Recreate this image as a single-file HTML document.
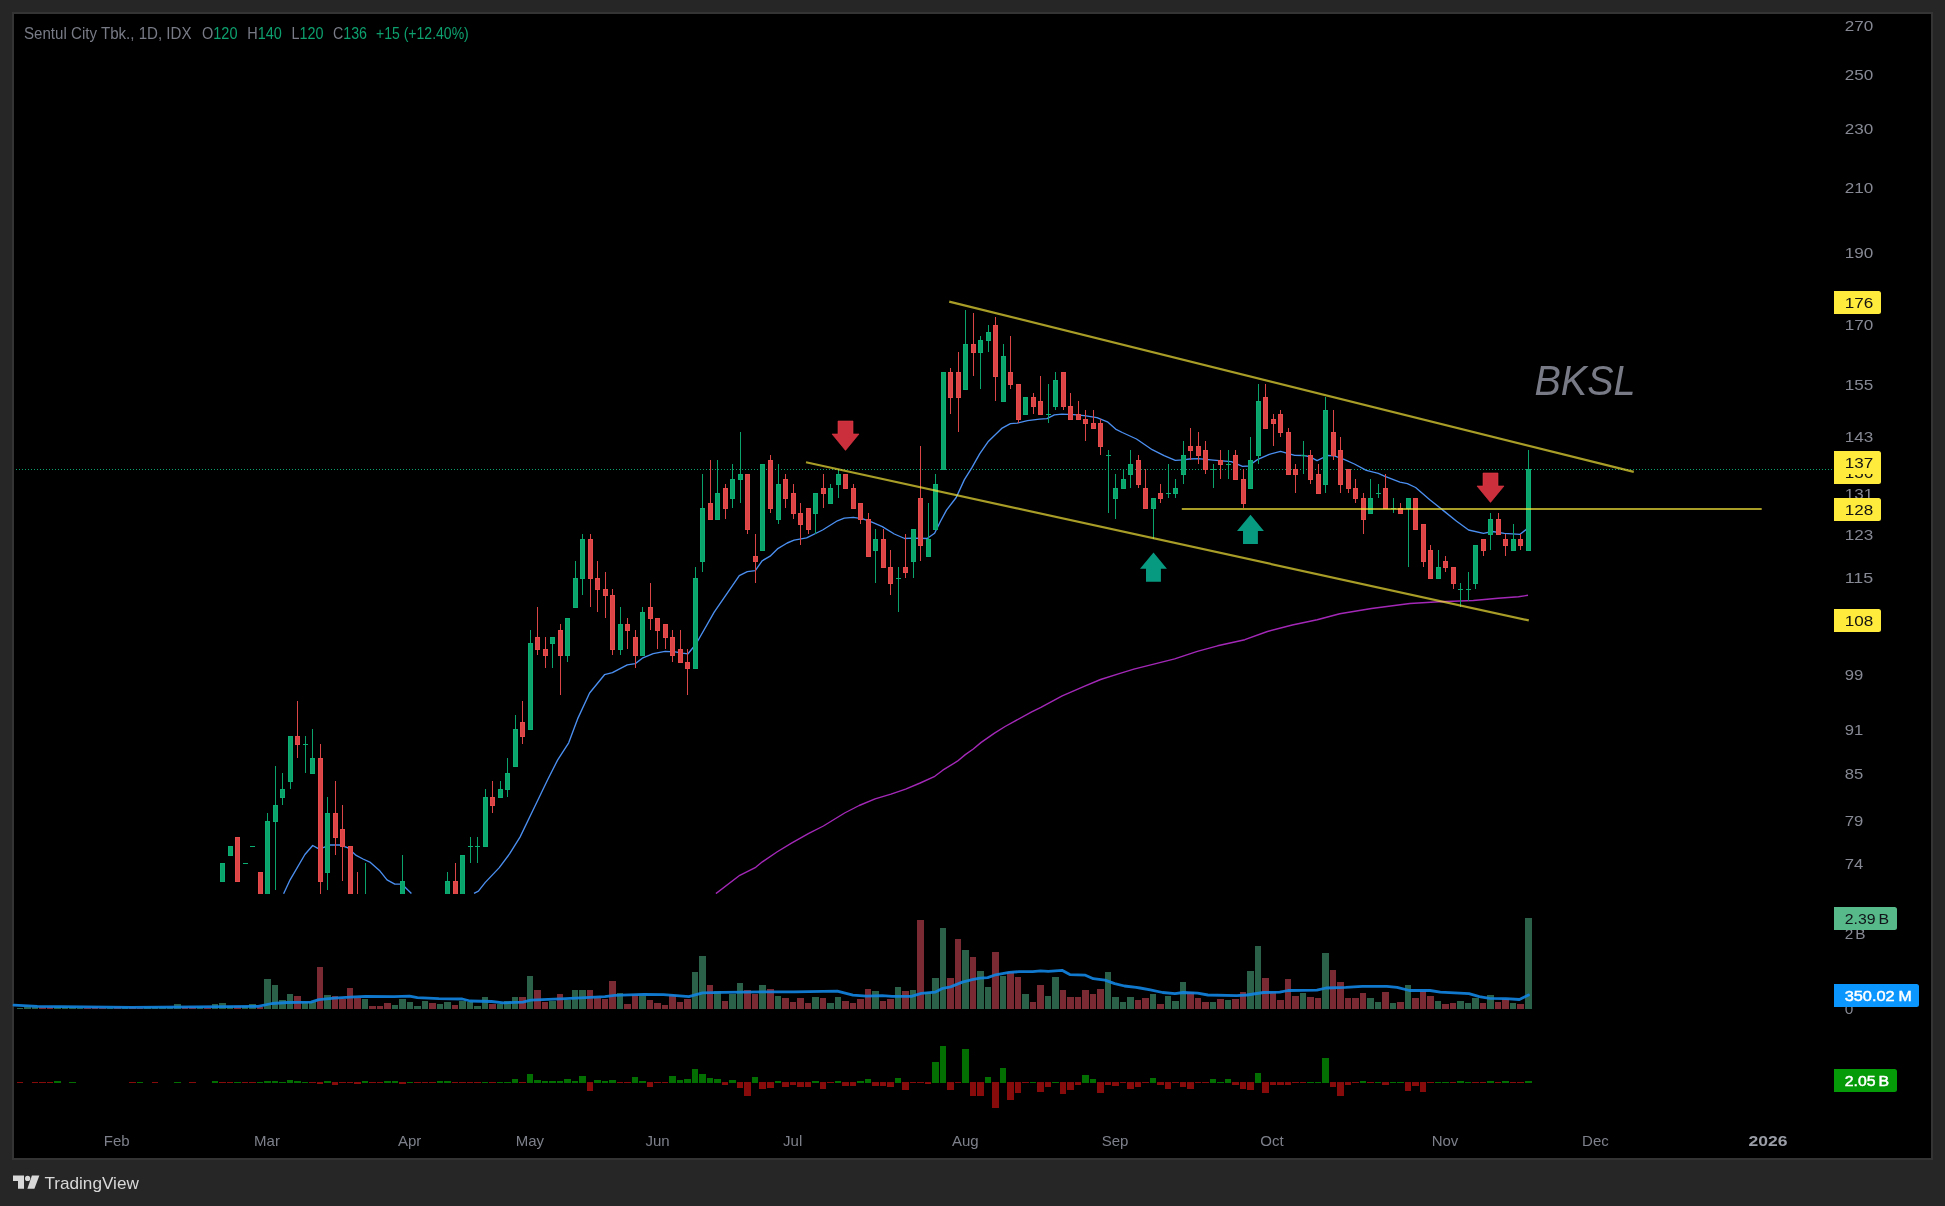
<!DOCTYPE html><html><head><meta charset="utf-8"><title>BKSL chart</title>
<style>html,body{margin:0;padding:0;background:#262626;}body{width:1945px;height:1206px;overflow:hidden;position:relative;font-family:"Liberation Sans",sans-serif;}svg{position:absolute;left:0;top:0;display:block}text{font-family:"Liberation Sans",sans-serif;}svg{will-change:transform;}</style></head><body>
<svg width="1945" height="1206" viewBox="0 0 1945 1206">
<rect x="0" y="0" width="1945" height="1206" fill="#262626"/>
<rect x="12" y="12" width="1921" height="1148" fill="#343434"/>
<rect x="14" y="14" width="1917" height="1144" fill="#000"/>
<defs><clipPath id="main"><rect x="14" y="14" width="1820" height="880"/></clipPath></defs>
<g clip-path="url(#main)">
<line x1="13" y1="469.5" x2="1834" y2="469.5" stroke="#0c9f70" stroke-width="1" stroke-dasharray="1 2" shape-rendering="crispEdges"/>
<path d="M715.9 893.6 L739.8 875.3 L755.7 867.3 L762.4 861.8 L776.9 852.0 L791.5 843.2 L808.8 833.4 L823.4 826.0 L844.6 813.0 L859.2 805.5 L875.1 798.9 L891.0 794.1 L905.6 789.1 L920.2 783.0 L934.8 776.3 L942.8 770.2 L957.4 761.2 L965.3 754.6 L973.3 749.0 L981.2 742.4 L994.5 733.1 L1005.1 726.5 L1031.7 711.9 L1040.9 707.4 L1062.2 695.9 L1084.7 686.1 L1100.6 679.5 L1120.0 673.4 L1133.9 669.1 L1174.7 658.9 L1197.3 651.4 L1217.6 645.8 L1244.8 639.7 L1267.4 631.5 L1292.3 625.0 L1317.2 619.8 L1339.8 613.7 L1371.5 608.5 L1409.9 603.5 L1439.3 601.7 L1473.3 600.5 L1498.1 598.3 L1518.5 596.7 L1528.0 595.3" fill="none" stroke="#a428b8" stroke-width="1.4" stroke-linejoin="round"/>
<path d="M283.6 893.7 L290.1 879.8 L304.9 854.5 L312.7 845.5 L317.9 848.4 L323.2 847.6 L330.1 845.0 L339.7 845.0 L347.5 847.6 L356.2 855.4 L363.0 859.0 L370.4 862.4 L380.0 871.1 L387.0 879.8 L394.8 884.1 L401.8 884.1 L411.4 893.4 M474.0 893.4 L478.4 891.1 L485.3 882.4 L499.3 867.6 L509.7 853.7 L520.0 837.1 L535.0 806.0 L548.0 779.0 L557.7 759.9 L568.7 742.8 L577.6 718.9 L589.6 693.0 L604.5 674.7 L612.4 672.7 L627.3 664.8 L635.3 663.6 L642.3 658.2 L653.2 653.7 L665.1 651.3 L675.1 651.9 L682.3 653.2 L688.0 653.8 L696.0 644.0 L714.2 612.1 L739.3 575.6 L747.3 571.7 L755.3 570.6 L762.1 560.8 L770.1 556.2 L777.4 548.9 L787.2 543.0 L794.1 540.2 L806.6 537.9 L822.6 530.0 L837.4 520.8 L844.3 518.1 L853.4 517.4 L862.9 518.8 L871.9 522.1 L882.3 526.6 L894.3 534.0 L904.7 538.5 L912.2 538.1 L927.1 538.5 L934.6 533.3 L940.5 521.3 L946.5 510.1 L956.2 497.5 L964.4 479.6 L971.9 467.6 L979.8 453.7 L988.0 441.8 L1002.2 428.1 L1010.4 423.6 L1017.1 423.1 L1027.5 420.6 L1039.5 419.1 L1046.9 418.7 L1054.4 414.9 L1061.9 414.2 L1073.8 414.6 L1084.3 415.7 L1096.9 417.6 L1107.4 421.8 L1115.6 429.1 L1122.3 432.5 L1136.5 439.0 L1152.2 449.7 L1164.1 455.7 L1175.3 460.4 L1183.5 459.9 L1189.5 459.0 L1198.4 458.7 L1213.4 460.1 L1231.3 461.6 L1242.5 466.3 L1248.4 466.0 L1257.4 459.6 L1269.3 454.3 L1280.5 451.3 L1294.7 455.4 L1303.7 455.5 L1309.6 456.6 L1317.1 460.6 L1327.5 455.5 L1334.3 455.8 L1344.0 459.3 L1354.4 464.0 L1366.3 470.3 L1378.3 473.3 L1385.0 476.3 L1399.9 482.1 L1407.4 483.6 L1415.6 487.5 L1429.8 499.7 L1444.7 511.6 L1456.6 521.3 L1468.6 530.0 L1483.5 533.3 L1492.5 531.5 L1504.4 533.3 L1520.1 534.3 L1526.0 529.6 L1528.5 527.5" fill="none" stroke="#4b8ff0" stroke-width="1.35" stroke-linejoin="round"/>
<g shape-rendering="crispEdges">
<rect x="222" y="863" width="1" height="18" fill="#0aa36b"/>
<rect x="220" y="863" width="5" height="19" fill="#0cae73"/>
<rect x="221" y="864" width="3" height="17" fill="#0aa36b"/>
<rect x="230" y="846" width="1" height="9" fill="#0aa36b"/>
<rect x="228" y="846" width="5" height="10" fill="#0cae73"/>
<rect x="229" y="847" width="3" height="8" fill="#0aa36b"/>
<rect x="237" y="837" width="1" height="44" fill="#db4545"/>
<rect x="235" y="837" width="5" height="45" fill="#e84b4b"/>
<rect x="236" y="838" width="3" height="43" fill="#db4545"/>
<rect x="245" y="863" width="1" height="1" fill="#0aa36b"/>
<rect x="243" y="863" width="5" height="1" fill="#0cae73"/>
<rect x="252" y="846" width="1" height="1" fill="#0aa36b"/>
<rect x="250" y="846" width="5" height="1" fill="#0cae73"/>
<rect x="260" y="872" width="1" height="65" fill="#db4545"/>
<rect x="258" y="872" width="5" height="57" fill="#e84b4b"/>
<rect x="259" y="873" width="3" height="55" fill="#db4545"/>
<rect x="267" y="813" width="1" height="124" fill="#0aa36b"/>
<rect x="265" y="821" width="5" height="108" fill="#0cae73"/>
<rect x="266" y="822" width="3" height="106" fill="#0aa36b"/>
<rect x="275" y="766" width="1" height="124" fill="#0aa36b"/>
<rect x="273" y="805" width="5" height="17" fill="#0cae73"/>
<rect x="274" y="806" width="3" height="15" fill="#0aa36b"/>
<rect x="282" y="773" width="1" height="32" fill="#0aa36b"/>
<rect x="280" y="789" width="5" height="9" fill="#0cae73"/>
<rect x="281" y="790" width="3" height="7" fill="#0aa36b"/>
<rect x="290" y="736" width="1" height="53" fill="#0aa36b"/>
<rect x="288" y="736" width="5" height="46" fill="#0cae73"/>
<rect x="289" y="737" width="3" height="44" fill="#0aa36b"/>
<rect x="297" y="701" width="1" height="57" fill="#db4545"/>
<rect x="295" y="736" width="5" height="9" fill="#e84b4b"/>
<rect x="296" y="737" width="3" height="7" fill="#db4545"/>
<rect x="305" y="736" width="1" height="37" fill="#0aa36b"/>
<rect x="303" y="744" width="5" height="1" fill="#0cae73"/>
<rect x="312" y="729" width="1" height="44" fill="#0aa36b"/>
<rect x="310" y="758" width="5" height="16" fill="#0cae73"/>
<rect x="311" y="759" width="3" height="14" fill="#0aa36b"/>
<rect x="320" y="744" width="1" height="193" fill="#db4545"/>
<rect x="318" y="758" width="5" height="124" fill="#e84b4b"/>
<rect x="319" y="759" width="3" height="122" fill="#db4545"/>
<rect x="327" y="797" width="1" height="93" fill="#0aa36b"/>
<rect x="325" y="813" width="5" height="60" fill="#0cae73"/>
<rect x="326" y="814" width="3" height="58" fill="#0aa36b"/>
<rect x="335" y="781" width="1" height="74" fill="#db4545"/>
<rect x="333" y="813" width="5" height="25" fill="#e84b4b"/>
<rect x="334" y="814" width="3" height="23" fill="#db4545"/>
<rect x="342" y="805" width="1" height="76" fill="#db4545"/>
<rect x="340" y="829" width="5" height="18" fill="#e84b4b"/>
<rect x="341" y="830" width="3" height="16" fill="#db4545"/>
<rect x="350" y="846" width="1" height="91" fill="#db4545"/>
<rect x="348" y="846" width="5" height="83" fill="#e84b4b"/>
<rect x="349" y="847" width="3" height="81" fill="#db4545"/>
<rect x="357" y="872" width="1" height="85" fill="#db4545"/>
<rect x="355" y="928" width="5" height="10" fill="#e84b4b"/>
<rect x="356" y="929" width="3" height="8" fill="#db4545"/>
<rect x="365" y="863" width="1" height="84" fill="#0aa36b"/>
<rect x="363" y="918" width="5" height="20" fill="#0cae73"/>
<rect x="364" y="919" width="3" height="18" fill="#0aa36b"/>
<rect x="402" y="855" width="1" height="82" fill="#0aa36b"/>
<rect x="400" y="881" width="5" height="48" fill="#0cae73"/>
<rect x="401" y="882" width="3" height="46" fill="#0aa36b"/>
<rect x="447" y="872" width="1" height="56" fill="#0aa36b"/>
<rect x="445" y="881" width="5" height="38" fill="#0cae73"/>
<rect x="446" y="882" width="3" height="36" fill="#0aa36b"/>
<rect x="455" y="863" width="1" height="65" fill="#db4545"/>
<rect x="453" y="881" width="5" height="38" fill="#e84b4b"/>
<rect x="454" y="882" width="3" height="36" fill="#db4545"/>
<rect x="462" y="855" width="1" height="82" fill="#0aa36b"/>
<rect x="460" y="855" width="5" height="74" fill="#0cae73"/>
<rect x="461" y="856" width="3" height="72" fill="#0aa36b"/>
<rect x="470" y="837" width="1" height="26" fill="#0aa36b"/>
<rect x="468" y="846" width="5" height="1" fill="#0cae73"/>
<rect x="477" y="837" width="1" height="26" fill="#0aa36b"/>
<rect x="475" y="846" width="5" height="1" fill="#0cae73"/>
<rect x="485" y="789" width="1" height="57" fill="#0aa36b"/>
<rect x="483" y="797" width="5" height="50" fill="#0cae73"/>
<rect x="484" y="798" width="3" height="48" fill="#0aa36b"/>
<rect x="492" y="781" width="1" height="32" fill="#db4545"/>
<rect x="490" y="797" width="5" height="9" fill="#e84b4b"/>
<rect x="491" y="798" width="3" height="7" fill="#db4545"/>
<rect x="500" y="781" width="1" height="16" fill="#0aa36b"/>
<rect x="498" y="789" width="5" height="9" fill="#0cae73"/>
<rect x="499" y="790" width="3" height="7" fill="#0aa36b"/>
<rect x="507" y="758" width="1" height="39" fill="#0aa36b"/>
<rect x="505" y="773" width="5" height="17" fill="#0cae73"/>
<rect x="506" y="774" width="3" height="15" fill="#0aa36b"/>
<rect x="515" y="715" width="1" height="51" fill="#0aa36b"/>
<rect x="513" y="729" width="5" height="38" fill="#0cae73"/>
<rect x="514" y="730" width="3" height="36" fill="#0aa36b"/>
<rect x="522" y="701" width="1" height="43" fill="#db4545"/>
<rect x="520" y="722" width="5" height="15" fill="#e84b4b"/>
<rect x="521" y="723" width="3" height="13" fill="#db4545"/>
<rect x="530" y="630" width="1" height="99" fill="#0aa36b"/>
<rect x="528" y="643" width="5" height="87" fill="#0cae73"/>
<rect x="529" y="644" width="3" height="85" fill="#0aa36b"/>
<rect x="537" y="607" width="1" height="48" fill="#db4545"/>
<rect x="535" y="637" width="5" height="13" fill="#e84b4b"/>
<rect x="536" y="638" width="3" height="11" fill="#db4545"/>
<rect x="545" y="637" width="1" height="31" fill="#db4545"/>
<rect x="543" y="649" width="5" height="7" fill="#e84b4b"/>
<rect x="544" y="650" width="3" height="5" fill="#db4545"/>
<rect x="552" y="637" width="1" height="31" fill="#0aa36b"/>
<rect x="550" y="637" width="5" height="7" fill="#0cae73"/>
<rect x="551" y="638" width="3" height="5" fill="#0aa36b"/>
<rect x="560" y="624" width="1" height="71" fill="#db4545"/>
<rect x="558" y="630" width="5" height="26" fill="#e84b4b"/>
<rect x="559" y="631" width="3" height="24" fill="#db4545"/>
<rect x="567" y="618" width="1" height="44" fill="#0aa36b"/>
<rect x="565" y="618" width="5" height="38" fill="#0cae73"/>
<rect x="566" y="619" width="3" height="36" fill="#0aa36b"/>
<rect x="575" y="561" width="1" height="46" fill="#0aa36b"/>
<rect x="573" y="578" width="5" height="30" fill="#0cae73"/>
<rect x="574" y="579" width="3" height="28" fill="#0aa36b"/>
<rect x="582" y="534" width="1" height="61" fill="#0aa36b"/>
<rect x="580" y="539" width="5" height="40" fill="#0cae73"/>
<rect x="581" y="540" width="3" height="38" fill="#0aa36b"/>
<rect x="590" y="534" width="1" height="73" fill="#db4545"/>
<rect x="588" y="539" width="5" height="40" fill="#e84b4b"/>
<rect x="589" y="540" width="3" height="38" fill="#db4545"/>
<rect x="597" y="561" width="1" height="51" fill="#db4545"/>
<rect x="595" y="578" width="5" height="12" fill="#e84b4b"/>
<rect x="596" y="579" width="3" height="10" fill="#db4545"/>
<rect x="605" y="572" width="1" height="46" fill="#db4545"/>
<rect x="603" y="589" width="5" height="7" fill="#e84b4b"/>
<rect x="604" y="590" width="3" height="5" fill="#db4545"/>
<rect x="612" y="589" width="1" height="66" fill="#db4545"/>
<rect x="610" y="595" width="5" height="55" fill="#e84b4b"/>
<rect x="611" y="596" width="3" height="53" fill="#db4545"/>
<rect x="620" y="607" width="1" height="48" fill="#0aa36b"/>
<rect x="618" y="624" width="5" height="26" fill="#0cae73"/>
<rect x="619" y="625" width="3" height="24" fill="#0aa36b"/>
<rect x="627" y="618" width="1" height="31" fill="#db4545"/>
<rect x="625" y="624" width="5" height="7" fill="#e84b4b"/>
<rect x="626" y="625" width="3" height="5" fill="#db4545"/>
<rect x="635" y="630" width="1" height="38" fill="#db4545"/>
<rect x="633" y="637" width="5" height="19" fill="#e84b4b"/>
<rect x="634" y="638" width="3" height="17" fill="#db4545"/>
<rect x="642" y="607" width="1" height="48" fill="#0aa36b"/>
<rect x="640" y="612" width="5" height="44" fill="#0cae73"/>
<rect x="641" y="613" width="3" height="42" fill="#0aa36b"/>
<rect x="650" y="583" width="1" height="47" fill="#db4545"/>
<rect x="648" y="607" width="5" height="12" fill="#e84b4b"/>
<rect x="649" y="608" width="3" height="10" fill="#db4545"/>
<rect x="657" y="618" width="1" height="31" fill="#db4545"/>
<rect x="655" y="618" width="5" height="13" fill="#e84b4b"/>
<rect x="656" y="619" width="3" height="11" fill="#db4545"/>
<rect x="665" y="624" width="1" height="25" fill="#db4545"/>
<rect x="663" y="624" width="5" height="14" fill="#e84b4b"/>
<rect x="664" y="625" width="3" height="12" fill="#db4545"/>
<rect x="672" y="630" width="1" height="32" fill="#db4545"/>
<rect x="670" y="637" width="5" height="19" fill="#e84b4b"/>
<rect x="671" y="638" width="3" height="17" fill="#db4545"/>
<rect x="680" y="630" width="1" height="32" fill="#db4545"/>
<rect x="678" y="649" width="5" height="14" fill="#e84b4b"/>
<rect x="679" y="650" width="3" height="12" fill="#db4545"/>
<rect x="687" y="649" width="1" height="46" fill="#db4545"/>
<rect x="685" y="662" width="5" height="7" fill="#e84b4b"/>
<rect x="686" y="663" width="3" height="5" fill="#db4545"/>
<rect x="695" y="567" width="1" height="101" fill="#0aa36b"/>
<rect x="693" y="578" width="5" height="91" fill="#0cae73"/>
<rect x="694" y="579" width="3" height="89" fill="#0aa36b"/>
<rect x="702" y="474" width="1" height="98" fill="#0aa36b"/>
<rect x="700" y="508" width="5" height="54" fill="#0cae73"/>
<rect x="701" y="509" width="3" height="52" fill="#0aa36b"/>
<rect x="710" y="460" width="1" height="59" fill="#db4545"/>
<rect x="708" y="503" width="5" height="17" fill="#e84b4b"/>
<rect x="709" y="504" width="3" height="15" fill="#db4545"/>
<rect x="717" y="460" width="1" height="59" fill="#0aa36b"/>
<rect x="715" y="493" width="5" height="27" fill="#0cae73"/>
<rect x="716" y="494" width="3" height="25" fill="#0aa36b"/>
<rect x="725" y="484" width="1" height="35" fill="#db4545"/>
<rect x="723" y="488" width="5" height="21" fill="#e84b4b"/>
<rect x="724" y="489" width="3" height="19" fill="#db4545"/>
<rect x="732" y="464" width="1" height="44" fill="#0aa36b"/>
<rect x="730" y="479" width="5" height="20" fill="#0cae73"/>
<rect x="731" y="480" width="3" height="18" fill="#0aa36b"/>
<rect x="740" y="432" width="1" height="71" fill="#0aa36b"/>
<rect x="738" y="474" width="5" height="6" fill="#0cae73"/>
<rect x="739" y="475" width="3" height="4" fill="#0aa36b"/>
<rect x="747" y="474" width="1" height="60" fill="#db4545"/>
<rect x="745" y="474" width="5" height="56" fill="#e84b4b"/>
<rect x="746" y="475" width="3" height="54" fill="#db4545"/>
<rect x="755" y="534" width="1" height="49" fill="#db4545"/>
<rect x="753" y="556" width="5" height="6" fill="#e84b4b"/>
<rect x="754" y="557" width="3" height="4" fill="#db4545"/>
<rect x="762" y="464" width="1" height="86" fill="#0aa36b"/>
<rect x="760" y="464" width="5" height="87" fill="#0cae73"/>
<rect x="761" y="465" width="3" height="85" fill="#0aa36b"/>
<rect x="770" y="455" width="1" height="58" fill="#db4545"/>
<rect x="768" y="460" width="5" height="49" fill="#e84b4b"/>
<rect x="769" y="461" width="3" height="47" fill="#db4545"/>
<rect x="778" y="464" width="1" height="60" fill="#0aa36b"/>
<rect x="776" y="484" width="5" height="36" fill="#0cae73"/>
<rect x="777" y="485" width="3" height="34" fill="#0aa36b"/>
<rect x="785" y="474" width="1" height="34" fill="#db4545"/>
<rect x="783" y="479" width="5" height="20" fill="#e84b4b"/>
<rect x="784" y="480" width="3" height="18" fill="#db4545"/>
<rect x="793" y="484" width="1" height="35" fill="#db4545"/>
<rect x="791" y="493" width="5" height="21" fill="#e84b4b"/>
<rect x="792" y="494" width="3" height="19" fill="#db4545"/>
<rect x="800" y="503" width="1" height="42" fill="#db4545"/>
<rect x="798" y="513" width="5" height="12" fill="#e84b4b"/>
<rect x="799" y="514" width="3" height="10" fill="#db4545"/>
<rect x="808" y="508" width="1" height="26" fill="#db4545"/>
<rect x="806" y="508" width="5" height="22" fill="#e84b4b"/>
<rect x="807" y="509" width="3" height="20" fill="#db4545"/>
<rect x="815" y="493" width="1" height="41" fill="#0aa36b"/>
<rect x="813" y="493" width="5" height="21" fill="#0cae73"/>
<rect x="814" y="494" width="3" height="19" fill="#0aa36b"/>
<rect x="823" y="474" width="1" height="34" fill="#db4545"/>
<rect x="821" y="488" width="5" height="6" fill="#e84b4b"/>
<rect x="822" y="489" width="3" height="4" fill="#db4545"/>
<rect x="830" y="484" width="1" height="19" fill="#0aa36b"/>
<rect x="828" y="488" width="5" height="16" fill="#0cae73"/>
<rect x="829" y="489" width="3" height="14" fill="#0aa36b"/>
<rect x="838" y="469" width="1" height="29" fill="#0aa36b"/>
<rect x="836" y="474" width="5" height="11" fill="#0cae73"/>
<rect x="837" y="475" width="3" height="9" fill="#0aa36b"/>
<rect x="845" y="474" width="1" height="14" fill="#db4545"/>
<rect x="843" y="474" width="5" height="15" fill="#e84b4b"/>
<rect x="844" y="475" width="3" height="13" fill="#db4545"/>
<rect x="853" y="484" width="1" height="24" fill="#db4545"/>
<rect x="851" y="488" width="5" height="21" fill="#e84b4b"/>
<rect x="852" y="489" width="3" height="19" fill="#db4545"/>
<rect x="860" y="503" width="1" height="21" fill="#db4545"/>
<rect x="858" y="503" width="5" height="17" fill="#e84b4b"/>
<rect x="859" y="504" width="3" height="15" fill="#db4545"/>
<rect x="868" y="513" width="1" height="43" fill="#db4545"/>
<rect x="866" y="519" width="5" height="38" fill="#e84b4b"/>
<rect x="867" y="520" width="3" height="36" fill="#db4545"/>
<rect x="875" y="529" width="1" height="54" fill="#0aa36b"/>
<rect x="873" y="539" width="5" height="12" fill="#0cae73"/>
<rect x="874" y="540" width="3" height="10" fill="#0aa36b"/>
<rect x="883" y="529" width="1" height="38" fill="#db4545"/>
<rect x="881" y="539" width="5" height="29" fill="#e84b4b"/>
<rect x="882" y="540" width="3" height="27" fill="#db4545"/>
<rect x="890" y="550" width="1" height="45" fill="#db4545"/>
<rect x="888" y="567" width="5" height="17" fill="#e84b4b"/>
<rect x="889" y="568" width="3" height="15" fill="#db4545"/>
<rect x="898" y="567" width="1" height="45" fill="#0aa36b"/>
<rect x="896" y="578" width="5" height="1" fill="#0cae73"/>
<rect x="905" y="534" width="1" height="44" fill="#db4545"/>
<rect x="903" y="567" width="5" height="6" fill="#e84b4b"/>
<rect x="904" y="568" width="3" height="4" fill="#db4545"/>
<rect x="913" y="529" width="1" height="49" fill="#0aa36b"/>
<rect x="911" y="529" width="5" height="33" fill="#0cae73"/>
<rect x="912" y="530" width="3" height="31" fill="#0aa36b"/>
<rect x="920" y="446" width="1" height="115" fill="#db4545"/>
<rect x="918" y="498" width="5" height="48" fill="#e84b4b"/>
<rect x="919" y="499" width="3" height="46" fill="#db4545"/>
<rect x="928" y="503" width="1" height="53" fill="#0aa36b"/>
<rect x="926" y="539" width="5" height="18" fill="#0cae73"/>
<rect x="927" y="540" width="3" height="16" fill="#0aa36b"/>
<rect x="935" y="474" width="1" height="55" fill="#0aa36b"/>
<rect x="933" y="484" width="5" height="46" fill="#0cae73"/>
<rect x="934" y="485" width="3" height="44" fill="#0aa36b"/>
<rect x="943" y="372" width="1" height="97" fill="#0aa36b"/>
<rect x="941" y="372" width="5" height="98" fill="#0cae73"/>
<rect x="942" y="373" width="3" height="96" fill="#0aa36b"/>
<rect x="950" y="368" width="1" height="46" fill="#db4545"/>
<rect x="948" y="372" width="5" height="26" fill="#e84b4b"/>
<rect x="949" y="373" width="3" height="24" fill="#db4545"/>
<rect x="958" y="352" width="1" height="80" fill="#db4545"/>
<rect x="956" y="372" width="5" height="26" fill="#e84b4b"/>
<rect x="957" y="373" width="3" height="24" fill="#db4545"/>
<rect x="965" y="310" width="1" height="79" fill="#0aa36b"/>
<rect x="963" y="344" width="5" height="46" fill="#0cae73"/>
<rect x="964" y="345" width="3" height="44" fill="#0aa36b"/>
<rect x="973" y="313" width="1" height="63" fill="#db4545"/>
<rect x="971" y="344" width="5" height="9" fill="#e84b4b"/>
<rect x="972" y="345" width="3" height="7" fill="#db4545"/>
<rect x="980" y="336" width="1" height="53" fill="#0aa36b"/>
<rect x="978" y="340" width="5" height="13" fill="#0cae73"/>
<rect x="979" y="341" width="3" height="11" fill="#0aa36b"/>
<rect x="988" y="325" width="1" height="27" fill="#0aa36b"/>
<rect x="986" y="332" width="5" height="9" fill="#0cae73"/>
<rect x="987" y="333" width="3" height="7" fill="#0aa36b"/>
<rect x="995" y="317" width="1" height="84" fill="#db4545"/>
<rect x="993" y="325" width="5" height="52" fill="#e84b4b"/>
<rect x="994" y="326" width="3" height="50" fill="#db4545"/>
<rect x="1003" y="344" width="1" height="57" fill="#0aa36b"/>
<rect x="1001" y="356" width="5" height="46" fill="#0cae73"/>
<rect x="1002" y="357" width="3" height="44" fill="#0aa36b"/>
<rect x="1010" y="336" width="1" height="53" fill="#db4545"/>
<rect x="1008" y="372" width="5" height="13" fill="#e84b4b"/>
<rect x="1009" y="373" width="3" height="11" fill="#db4545"/>
<rect x="1018" y="384" width="1" height="39" fill="#db4545"/>
<rect x="1016" y="384" width="5" height="36" fill="#e84b4b"/>
<rect x="1017" y="385" width="3" height="34" fill="#db4545"/>
<rect x="1025" y="397" width="1" height="17" fill="#0aa36b"/>
<rect x="1023" y="397" width="5" height="18" fill="#0cae73"/>
<rect x="1024" y="398" width="3" height="16" fill="#0aa36b"/>
<rect x="1033" y="393" width="1" height="21" fill="#db4545"/>
<rect x="1031" y="397" width="5" height="10" fill="#e84b4b"/>
<rect x="1032" y="398" width="3" height="8" fill="#db4545"/>
<rect x="1040" y="376" width="1" height="38" fill="#db4545"/>
<rect x="1038" y="401" width="5" height="14" fill="#e84b4b"/>
<rect x="1039" y="402" width="3" height="12" fill="#db4545"/>
<rect x="1048" y="384" width="1" height="39" fill="#0aa36b"/>
<rect x="1046" y="414" width="5" height="1" fill="#0cae73"/>
<rect x="1055" y="372" width="1" height="38" fill="#0aa36b"/>
<rect x="1053" y="380" width="5" height="27" fill="#0cae73"/>
<rect x="1054" y="381" width="3" height="25" fill="#0aa36b"/>
<rect x="1063" y="372" width="1" height="38" fill="#db4545"/>
<rect x="1061" y="372" width="5" height="35" fill="#e84b4b"/>
<rect x="1062" y="373" width="3" height="33" fill="#db4545"/>
<rect x="1070" y="393" width="1" height="26" fill="#db4545"/>
<rect x="1068" y="406" width="5" height="14" fill="#e84b4b"/>
<rect x="1069" y="407" width="3" height="12" fill="#db4545"/>
<rect x="1078" y="401" width="1" height="18" fill="#db4545"/>
<rect x="1076" y="414" width="5" height="6" fill="#e84b4b"/>
<rect x="1077" y="415" width="3" height="4" fill="#db4545"/>
<rect x="1085" y="410" width="1" height="31" fill="#db4545"/>
<rect x="1083" y="419" width="5" height="5" fill="#e84b4b"/>
<rect x="1084" y="420" width="3" height="3" fill="#db4545"/>
<rect x="1093" y="410" width="1" height="18" fill="#db4545"/>
<rect x="1091" y="423" width="5" height="6" fill="#e84b4b"/>
<rect x="1092" y="424" width="3" height="4" fill="#db4545"/>
<rect x="1100" y="419" width="1" height="36" fill="#db4545"/>
<rect x="1098" y="423" width="5" height="24" fill="#e84b4b"/>
<rect x="1099" y="424" width="3" height="22" fill="#db4545"/>
<rect x="1108" y="450" width="1" height="63" fill="#0aa36b"/>
<rect x="1106" y="455" width="5" height="1" fill="#0cae73"/>
<rect x="1115" y="474" width="1" height="45" fill="#0aa36b"/>
<rect x="1113" y="488" width="5" height="11" fill="#0cae73"/>
<rect x="1114" y="489" width="3" height="9" fill="#0aa36b"/>
<rect x="1123" y="469" width="1" height="19" fill="#0aa36b"/>
<rect x="1121" y="479" width="5" height="10" fill="#0cae73"/>
<rect x="1122" y="480" width="3" height="8" fill="#0aa36b"/>
<rect x="1130" y="450" width="1" height="38" fill="#0aa36b"/>
<rect x="1128" y="464" width="5" height="11" fill="#0cae73"/>
<rect x="1129" y="465" width="3" height="9" fill="#0aa36b"/>
<rect x="1138" y="455" width="1" height="33" fill="#db4545"/>
<rect x="1136" y="460" width="5" height="25" fill="#e84b4b"/>
<rect x="1137" y="461" width="3" height="23" fill="#db4545"/>
<rect x="1145" y="469" width="1" height="39" fill="#db4545"/>
<rect x="1143" y="488" width="5" height="21" fill="#e84b4b"/>
<rect x="1144" y="489" width="3" height="19" fill="#db4545"/>
<rect x="1153" y="498" width="1" height="41" fill="#0aa36b"/>
<rect x="1151" y="498" width="5" height="11" fill="#0cae73"/>
<rect x="1152" y="499" width="3" height="9" fill="#0aa36b"/>
<rect x="1160" y="484" width="1" height="19" fill="#db4545"/>
<rect x="1158" y="493" width="5" height="6" fill="#e84b4b"/>
<rect x="1159" y="494" width="3" height="4" fill="#db4545"/>
<rect x="1168" y="464" width="1" height="34" fill="#0aa36b"/>
<rect x="1166" y="493" width="5" height="1" fill="#0cae73"/>
<rect x="1175" y="479" width="1" height="19" fill="#0aa36b"/>
<rect x="1173" y="488" width="5" height="6" fill="#0cae73"/>
<rect x="1174" y="489" width="3" height="4" fill="#0aa36b"/>
<rect x="1183" y="441" width="1" height="43" fill="#0aa36b"/>
<rect x="1181" y="455" width="5" height="20" fill="#0cae73"/>
<rect x="1182" y="456" width="3" height="18" fill="#0aa36b"/>
<rect x="1190" y="428" width="1" height="32" fill="#db4545"/>
<rect x="1188" y="446" width="5" height="5" fill="#e84b4b"/>
<rect x="1189" y="447" width="3" height="3" fill="#db4545"/>
<rect x="1198" y="432" width="1" height="32" fill="#db4545"/>
<rect x="1196" y="446" width="5" height="10" fill="#e84b4b"/>
<rect x="1197" y="447" width="3" height="8" fill="#db4545"/>
<rect x="1205" y="441" width="1" height="33" fill="#db4545"/>
<rect x="1203" y="450" width="5" height="20" fill="#e84b4b"/>
<rect x="1204" y="451" width="3" height="18" fill="#db4545"/>
<rect x="1213" y="464" width="1" height="24" fill="#0aa36b"/>
<rect x="1211" y="469" width="5" height="1" fill="#0cae73"/>
<rect x="1220" y="450" width="1" height="29" fill="#db4545"/>
<rect x="1218" y="460" width="5" height="5" fill="#e84b4b"/>
<rect x="1219" y="461" width="3" height="3" fill="#db4545"/>
<rect x="1228" y="450" width="1" height="29" fill="#0aa36b"/>
<rect x="1226" y="464" width="5" height="1" fill="#0cae73"/>
<rect x="1235" y="450" width="1" height="29" fill="#db4545"/>
<rect x="1233" y="455" width="5" height="25" fill="#e84b4b"/>
<rect x="1234" y="456" width="3" height="23" fill="#db4545"/>
<rect x="1243" y="469" width="1" height="39" fill="#db4545"/>
<rect x="1241" y="479" width="5" height="25" fill="#e84b4b"/>
<rect x="1242" y="480" width="3" height="23" fill="#db4545"/>
<rect x="1250" y="437" width="1" height="51" fill="#0aa36b"/>
<rect x="1248" y="460" width="5" height="29" fill="#0cae73"/>
<rect x="1249" y="461" width="3" height="27" fill="#0aa36b"/>
<rect x="1258" y="384" width="1" height="80" fill="#0aa36b"/>
<rect x="1256" y="401" width="5" height="55" fill="#0cae73"/>
<rect x="1257" y="402" width="3" height="53" fill="#0aa36b"/>
<rect x="1265" y="384" width="1" height="44" fill="#db4545"/>
<rect x="1263" y="397" width="5" height="32" fill="#e84b4b"/>
<rect x="1264" y="398" width="3" height="30" fill="#db4545"/>
<rect x="1273" y="414" width="1" height="32" fill="#db4545"/>
<rect x="1271" y="419" width="5" height="5" fill="#e84b4b"/>
<rect x="1272" y="420" width="3" height="3" fill="#db4545"/>
<rect x="1280" y="410" width="1" height="27" fill="#db4545"/>
<rect x="1278" y="414" width="5" height="19" fill="#e84b4b"/>
<rect x="1279" y="415" width="3" height="17" fill="#db4545"/>
<rect x="1288" y="428" width="1" height="46" fill="#db4545"/>
<rect x="1286" y="432" width="5" height="43" fill="#e84b4b"/>
<rect x="1287" y="433" width="3" height="41" fill="#db4545"/>
<rect x="1295" y="464" width="1" height="29" fill="#db4545"/>
<rect x="1293" y="469" width="5" height="6" fill="#e84b4b"/>
<rect x="1294" y="470" width="3" height="4" fill="#db4545"/>
<rect x="1303" y="441" width="1" height="33" fill="#0aa36b"/>
<rect x="1301" y="455" width="5" height="1" fill="#0cae73"/>
<rect x="1310" y="450" width="1" height="34" fill="#db4545"/>
<rect x="1308" y="455" width="5" height="25" fill="#e84b4b"/>
<rect x="1309" y="456" width="3" height="23" fill="#db4545"/>
<rect x="1318" y="464" width="1" height="29" fill="#db4545"/>
<rect x="1316" y="474" width="5" height="20" fill="#e84b4b"/>
<rect x="1317" y="475" width="3" height="18" fill="#db4545"/>
<rect x="1325" y="397" width="1" height="96" fill="#0aa36b"/>
<rect x="1323" y="410" width="5" height="75" fill="#0cae73"/>
<rect x="1324" y="411" width="3" height="73" fill="#0aa36b"/>
<rect x="1333" y="410" width="1" height="50" fill="#db4545"/>
<rect x="1331" y="432" width="5" height="24" fill="#e84b4b"/>
<rect x="1332" y="433" width="3" height="22" fill="#db4545"/>
<rect x="1340" y="437" width="1" height="56" fill="#db4545"/>
<rect x="1338" y="450" width="5" height="35" fill="#e84b4b"/>
<rect x="1339" y="451" width="3" height="33" fill="#db4545"/>
<rect x="1348" y="469" width="1" height="24" fill="#db4545"/>
<rect x="1346" y="469" width="5" height="20" fill="#e84b4b"/>
<rect x="1347" y="470" width="3" height="18" fill="#db4545"/>
<rect x="1355" y="479" width="1" height="24" fill="#db4545"/>
<rect x="1353" y="488" width="5" height="11" fill="#e84b4b"/>
<rect x="1354" y="489" width="3" height="9" fill="#db4545"/>
<rect x="1363" y="493" width="1" height="41" fill="#db4545"/>
<rect x="1361" y="498" width="5" height="22" fill="#e84b4b"/>
<rect x="1362" y="499" width="3" height="20" fill="#db4545"/>
<rect x="1370" y="479" width="1" height="34" fill="#0aa36b"/>
<rect x="1368" y="498" width="5" height="16" fill="#0cae73"/>
<rect x="1369" y="499" width="3" height="14" fill="#0aa36b"/>
<rect x="1378" y="484" width="1" height="14" fill="#0aa36b"/>
<rect x="1376" y="493" width="5" height="1" fill="#0cae73"/>
<rect x="1385" y="474" width="1" height="34" fill="#db4545"/>
<rect x="1383" y="488" width="5" height="21" fill="#e84b4b"/>
<rect x="1384" y="489" width="3" height="19" fill="#db4545"/>
<rect x="1393" y="498" width="1" height="15" fill="#0aa36b"/>
<rect x="1391" y="508" width="5" height="1" fill="#0cae73"/>
<rect x="1400" y="503" width="1" height="10" fill="#db4545"/>
<rect x="1398" y="508" width="5" height="6" fill="#e84b4b"/>
<rect x="1399" y="509" width="3" height="4" fill="#db4545"/>
<rect x="1408" y="498" width="1" height="69" fill="#0aa36b"/>
<rect x="1406" y="498" width="5" height="11" fill="#0cae73"/>
<rect x="1407" y="499" width="3" height="9" fill="#0aa36b"/>
<rect x="1415" y="498" width="1" height="31" fill="#db4545"/>
<rect x="1413" y="498" width="5" height="32" fill="#e84b4b"/>
<rect x="1414" y="499" width="3" height="30" fill="#db4545"/>
<rect x="1423" y="524" width="1" height="43" fill="#db4545"/>
<rect x="1421" y="524" width="5" height="38" fill="#e84b4b"/>
<rect x="1422" y="525" width="3" height="36" fill="#db4545"/>
<rect x="1430" y="545" width="1" height="33" fill="#db4545"/>
<rect x="1428" y="550" width="5" height="29" fill="#e84b4b"/>
<rect x="1429" y="551" width="3" height="27" fill="#db4545"/>
<rect x="1438" y="550" width="1" height="28" fill="#0aa36b"/>
<rect x="1436" y="567" width="5" height="12" fill="#0cae73"/>
<rect x="1437" y="568" width="3" height="10" fill="#0aa36b"/>
<rect x="1445" y="556" width="1" height="16" fill="#db4545"/>
<rect x="1443" y="561" width="5" height="7" fill="#e84b4b"/>
<rect x="1444" y="562" width="3" height="5" fill="#db4545"/>
<rect x="1453" y="567" width="1" height="22" fill="#db4545"/>
<rect x="1451" y="567" width="5" height="17" fill="#e84b4b"/>
<rect x="1452" y="568" width="3" height="15" fill="#db4545"/>
<rect x="1460" y="583" width="1" height="24" fill="#0aa36b"/>
<rect x="1458" y="589" width="5" height="1" fill="#0cae73"/>
<rect x="1468" y="572" width="1" height="29" fill="#0aa36b"/>
<rect x="1466" y="589" width="5" height="1" fill="#0cae73"/>
<rect x="1475" y="545" width="1" height="44" fill="#0aa36b"/>
<rect x="1473" y="545" width="5" height="39" fill="#0cae73"/>
<rect x="1474" y="546" width="3" height="37" fill="#0aa36b"/>
<rect x="1483" y="539" width="1" height="17" fill="#db4545"/>
<rect x="1481" y="539" width="5" height="12" fill="#e84b4b"/>
<rect x="1482" y="540" width="3" height="10" fill="#db4545"/>
<rect x="1490" y="513" width="1" height="37" fill="#0aa36b"/>
<rect x="1488" y="519" width="5" height="16" fill="#0cae73"/>
<rect x="1489" y="520" width="3" height="14" fill="#0aa36b"/>
<rect x="1498" y="513" width="1" height="21" fill="#db4545"/>
<rect x="1496" y="519" width="5" height="16" fill="#e84b4b"/>
<rect x="1497" y="520" width="3" height="14" fill="#db4545"/>
<rect x="1505" y="534" width="1" height="22" fill="#db4545"/>
<rect x="1503" y="539" width="5" height="7" fill="#e84b4b"/>
<rect x="1504" y="540" width="3" height="5" fill="#db4545"/>
<rect x="1513" y="524" width="1" height="26" fill="#0aa36b"/>
<rect x="1511" y="539" width="5" height="12" fill="#0cae73"/>
<rect x="1512" y="540" width="3" height="10" fill="#0aa36b"/>
<rect x="1520" y="534" width="1" height="16" fill="#db4545"/>
<rect x="1518" y="539" width="5" height="7" fill="#e84b4b"/>
<rect x="1519" y="540" width="3" height="5" fill="#db4545"/>
<rect x="1528" y="450" width="1" height="100" fill="#0aa36b"/>
<rect x="1526" y="469" width="5" height="82" fill="#0cae73"/>
<rect x="1527" y="470" width="3" height="80" fill="#0aa36b"/>
</g>
<g stroke="#ffee3c" stroke-width="2.2" stroke-linecap="butt" opacity="0.66">
<line x1="949.2" y1="301.6" x2="1633.8" y2="471.9"/>
<line x1="806" y1="462.2" x2="1528.8" y2="620.4"/>
<line x1="1181.8" y1="509" x2="1761.7" y2="509"/>
</g>
<path d="M838.0 421.0 h15 v13 h6 l-13.5 16.4 l-13.5 -16.4 h6 z" fill="#cc2f3c" stroke="#e03545" stroke-width="0.6"/>
<path d="M1483.0 473.0 h15 v13 h6 l-13.5 16.4 l-13.5 -16.4 h6 z" fill="#cc2f3c" stroke="#e03545" stroke-width="0.6"/>
<path d="M1153.5 552.6 l13.4 16.1 h-6 v13.1 h-14.9 v-13.1 h-6 z" fill="#089981"/>
<path d="M1250.5 514.8 l13.4 16.1 h-6 v13.1 h-14.9 v-13.1 h-6 z" fill="#089981"/>
<text x="1534.5" y="395.2" font-size="42.5" font-style="italic" fill="#787b86" textLength="101" lengthAdjust="spacingAndGlyphs">BKSL</text>
</g>
<text x="24" y="39.3" font-size="16" fill="#787b86" text-anchor="start" font-weight="normal" textLength="167.5" lengthAdjust="spacingAndGlyphs">Sentul City Tbk., 1D, IDX</text>
<text x="202" y="39.3" font-size="16" textLength="35.5" lengthAdjust="spacingAndGlyphs"><tspan fill="#787b86">O</tspan><tspan fill="#0da06e">120</tspan></text>
<text x="247.2" y="39.3" font-size="16" textLength="34.6" lengthAdjust="spacingAndGlyphs"><tspan fill="#787b86">H</tspan><tspan fill="#0da06e">140</tspan></text>
<text x="291.4" y="39.3" font-size="16" textLength="32" lengthAdjust="spacingAndGlyphs"><tspan fill="#787b86">L</tspan><tspan fill="#0da06e">120</tspan></text>
<text x="333" y="39.3" font-size="16" textLength="34" lengthAdjust="spacingAndGlyphs"><tspan fill="#787b86">C</tspan><tspan fill="#0da06e">136</tspan></text>
<text x="376" y="39.3" font-size="16" fill="#0da06e" text-anchor="start" font-weight="normal" textLength="92.8" lengthAdjust="spacingAndGlyphs">+15 (+12.40%)</text>
<text x="1844.7" y="31" font-size="15.2" fill="#868993" text-anchor="start" font-weight="normal" textLength="28.5" lengthAdjust="spacingAndGlyphs">270</text>
<text x="1844.7" y="80.23997023975716" font-size="15.2" fill="#868993" text-anchor="start" font-weight="normal" textLength="28.5" lengthAdjust="spacingAndGlyphs">250</text>
<text x="1844.7" y="134.2379001886862" font-size="15.2" fill="#868993" text-anchor="start" font-weight="normal" textLength="28.5" lengthAdjust="spacingAndGlyphs">230</text>
<text x="1844.7" y="193.1512237547151" font-size="15.2" fill="#868993" text-anchor="start" font-weight="normal" textLength="28.5" lengthAdjust="spacingAndGlyphs">210</text>
<text x="1844.7" y="257.96527151621683" font-size="15.2" fill="#868993" text-anchor="start" font-weight="normal" textLength="28.5" lengthAdjust="spacingAndGlyphs">190</text>
<text x="1844.7" y="329.99499281359795" font-size="15.2" fill="#868993" text-anchor="start" font-weight="normal" textLength="28.5" lengthAdjust="spacingAndGlyphs">170</text>
<text x="1844.7" y="389.81595493044347" font-size="15.2" fill="#868993" text-anchor="start" font-weight="normal" textLength="28.5" lengthAdjust="spacingAndGlyphs">155</text>
<text x="1844.7" y="441.9998780910319" font-size="15.2" fill="#868993" text-anchor="start" font-weight="normal" textLength="28.5" lengthAdjust="spacingAndGlyphs">143</text>
<text x="1844.7" y="498.7602741422822" font-size="15.2" fill="#868993" text-anchor="start" font-weight="normal" textLength="28.5" lengthAdjust="spacingAndGlyphs">131</text>
<text x="1844.7" y="539.5674721081704" font-size="15.2" fill="#868993" text-anchor="start" font-weight="normal" textLength="28.5" lengthAdjust="spacingAndGlyphs">123</text>
<text x="1844.7" y="583.1200143193068" font-size="15.2" fill="#868993" text-anchor="start" font-weight="normal" textLength="28.5" lengthAdjust="spacingAndGlyphs">115</text>
<text x="1844.7" y="680.1384457001873" font-size="15.2" fill="#868993" text-anchor="start" font-weight="normal" textLength="18.5" lengthAdjust="spacingAndGlyphs">99</text>
<text x="1844.7" y="734.7054442270357" font-size="15.2" fill="#868993" text-anchor="start" font-weight="normal" textLength="18.5" lengthAdjust="spacingAndGlyphs">91</text>
<text x="1844.7" y="778.8771069442186" font-size="15.2" fill="#868993" text-anchor="start" font-weight="normal" textLength="18.5" lengthAdjust="spacingAndGlyphs">85</text>
<text x="1844.7" y="826.2836313897045" font-size="15.2" fill="#868993" text-anchor="start" font-weight="normal" textLength="18.5" lengthAdjust="spacingAndGlyphs">79</text>
<text x="1844.7" y="868.6255062883271" font-size="15.2" fill="#868993" text-anchor="start" font-weight="normal" textLength="18.5" lengthAdjust="spacingAndGlyphs">74</text>
<path d="M1834 291 H1878.5 a2.5 2.5 0 0 1 2.5 2.5 V311.5 a2.5 2.5 0 0 1 -2.5 2.5 H1834 z" fill="#ffeb3b"/><text x="1844.7" y="308.0" font-size="15.4" fill="#131313" text-anchor="start" font-weight="normal" textLength="28.5" lengthAdjust="spacingAndGlyphs">176</text>
<path d="M1834 461 H1878.5 a2.5 2.5 0 0 1 2.5 2.5 V481.5 a2.5 2.5 0 0 1 -2.5 2.5 H1834 z" fill="#ffeb3b"/><text x="1844.7" y="478.0" font-size="15.4" fill="#131313" text-anchor="start" font-weight="normal" textLength="28.5" lengthAdjust="spacingAndGlyphs">136</text>
<path d="M1834 451 H1878.5 a2.5 2.5 0 0 1 2.5 2.5 V471.5 a2.5 2.5 0 0 1 -2.5 2.5 H1834 z" fill="#ffeb3b"/><text x="1844.7" y="468.0" font-size="15.4" fill="#131313" text-anchor="start" font-weight="normal" textLength="28.5" lengthAdjust="spacingAndGlyphs">137</text>
<path d="M1834 498 H1878.5 a2.5 2.5 0 0 1 2.5 2.5 V518.5 a2.5 2.5 0 0 1 -2.5 2.5 H1834 z" fill="#ffeb3b"/><text x="1844.7" y="515.0" font-size="15.4" fill="#131313" text-anchor="start" font-weight="normal" textLength="28.5" lengthAdjust="spacingAndGlyphs">128</text>
<path d="M1834 609 H1878.5 a2.5 2.5 0 0 1 2.5 2.5 V629.5 a2.5 2.5 0 0 1 -2.5 2.5 H1834 z" fill="#ffeb3b"/><text x="1844.7" y="626.0" font-size="15.4" fill="#131313" text-anchor="start" font-weight="normal" textLength="28.5" lengthAdjust="spacingAndGlyphs">108</text>
<g shape-rendering="crispEdges">
<rect x="392" y="1005" width="6" height="4" fill="#2b6049"/>
<rect x="399" y="999" width="7" height="10" fill="#2b6049"/>
<rect x="407" y="1002" width="6" height="7" fill="#2b6049"/>
<rect x="414" y="1006" width="7" height="3" fill="#2b6049"/>
<rect x="422" y="1001" width="6" height="8" fill="#2b6049"/>
<rect x="429" y="1003" width="7" height="6" fill="#7a2a33"/>
<rect x="437" y="1004" width="6" height="5" fill="#2b6049"/>
<rect x="444" y="1002" width="7" height="7" fill="#2b6049"/>
<rect x="452" y="1005" width="6" height="4" fill="#7a2a33"/>
<rect x="459" y="1001" width="7" height="8" fill="#2b6049"/>
<rect x="467" y="1002" width="6" height="7" fill="#2b6049"/>
<rect x="474" y="1006" width="7" height="3" fill="#2b6049"/>
<rect x="482" y="997" width="6" height="12" fill="#2b6049"/>
<rect x="489" y="1004" width="7" height="5" fill="#7a2a33"/>
<rect x="497" y="1004" width="6" height="5" fill="#2b6049"/>
<rect x="504" y="1001" width="7" height="8" fill="#2b6049"/>
<rect x="512" y="997" width="6" height="12" fill="#2b6049"/>
<rect x="519" y="997" width="7" height="12" fill="#7a2a33"/>
<rect x="527" y="976" width="6" height="33" fill="#2b6049"/>
<rect x="534" y="990" width="7" height="19" fill="#7a2a33"/>
<rect x="542" y="1002" width="6" height="7" fill="#7a2a33"/>
<rect x="549" y="1001" width="7" height="8" fill="#2b6049"/>
<rect x="557" y="994" width="6" height="15" fill="#7a2a33"/>
<rect x="564" y="1000" width="7" height="9" fill="#2b6049"/>
<rect x="572" y="990" width="6" height="19" fill="#2b6049"/>
<rect x="579" y="990" width="7" height="19" fill="#2b6049"/>
<rect x="587" y="990" width="6" height="19" fill="#7a2a33"/>
<rect x="594" y="998" width="7" height="11" fill="#7a2a33"/>
<rect x="602" y="999" width="6" height="10" fill="#7a2a33"/>
<rect x="609" y="981" width="7" height="28" fill="#7a2a33"/>
<rect x="617" y="993" width="6" height="16" fill="#2b6049"/>
<rect x="624" y="1004" width="7" height="5" fill="#7a2a33"/>
<rect x="632" y="995" width="6" height="14" fill="#7a2a33"/>
<rect x="639" y="996" width="7" height="13" fill="#2b6049"/>
<rect x="647" y="1000" width="6" height="9" fill="#7a2a33"/>
<rect x="654" y="1003" width="7" height="6" fill="#7a2a33"/>
<rect x="662" y="1005" width="6" height="4" fill="#7a2a33"/>
<rect x="669" y="995" width="7" height="14" fill="#7a2a33"/>
<rect x="677" y="1002" width="6" height="7" fill="#7a2a33"/>
<rect x="684" y="999" width="7" height="10" fill="#7a2a33"/>
<rect x="692" y="972" width="6" height="37" fill="#2b6049"/>
<rect x="699" y="956" width="7" height="53" fill="#2b6049"/>
<rect x="707" y="985" width="6" height="24" fill="#7a2a33"/>
<rect x="714" y="991" width="7" height="18" fill="#2b6049"/>
<rect x="722" y="1001" width="6" height="8" fill="#7a2a33"/>
<rect x="729" y="994" width="7" height="15" fill="#2b6049"/>
<rect x="737" y="983" width="6" height="26" fill="#2b6049"/>
<rect x="744" y="990" width="7" height="19" fill="#7a2a33"/>
<rect x="752" y="994" width="6" height="15" fill="#7a2a33"/>
<rect x="759" y="985" width="7" height="24" fill="#2b6049"/>
<rect x="767" y="989" width="7" height="20" fill="#7a2a33"/>
<rect x="775" y="996" width="6" height="13" fill="#2b6049"/>
<rect x="782" y="998" width="7" height="11" fill="#7a2a33"/>
<rect x="790" y="1002" width="6" height="7" fill="#7a2a33"/>
<rect x="797" y="998" width="7" height="11" fill="#7a2a33"/>
<rect x="805" y="1003" width="6" height="6" fill="#7a2a33"/>
<rect x="812" y="997" width="7" height="12" fill="#2b6049"/>
<rect x="820" y="998" width="6" height="11" fill="#7a2a33"/>
<rect x="827" y="1003" width="7" height="6" fill="#2b6049"/>
<rect x="835" y="997" width="6" height="12" fill="#2b6049"/>
<rect x="842" y="1001" width="7" height="8" fill="#7a2a33"/>
<rect x="850" y="1003" width="6" height="6" fill="#7a2a33"/>
<rect x="857" y="999" width="7" height="10" fill="#7a2a33"/>
<rect x="865" y="989" width="6" height="20" fill="#7a2a33"/>
<rect x="872" y="991" width="7" height="18" fill="#2b6049"/>
<rect x="880" y="1001" width="6" height="8" fill="#7a2a33"/>
<rect x="887" y="999" width="7" height="10" fill="#7a2a33"/>
<rect x="895" y="987" width="6" height="22" fill="#2b6049"/>
<rect x="902" y="991" width="7" height="18" fill="#7a2a33"/>
<rect x="910" y="990" width="6" height="19" fill="#2b6049"/>
<rect x="917" y="920" width="7" height="89" fill="#7a2a33"/>
<rect x="925" y="992" width="6" height="17" fill="#2b6049"/>
<rect x="932" y="978" width="7" height="31" fill="#2b6049"/>
<rect x="940" y="928" width="6" height="81" fill="#2b6049"/>
<rect x="947" y="978" width="7" height="31" fill="#7a2a33"/>
<rect x="955" y="939" width="6" height="70" fill="#7a2a33"/>
<rect x="962" y="950" width="7" height="59" fill="#2b6049"/>
<rect x="970" y="957" width="6" height="52" fill="#7a2a33"/>
<rect x="977" y="971" width="7" height="38" fill="#2b6049"/>
<rect x="985" y="987" width="6" height="22" fill="#2b6049"/>
<rect x="992" y="952" width="7" height="57" fill="#7a2a33"/>
<rect x="1000" y="976" width="6" height="33" fill="#2b6049"/>
<rect x="1007" y="972" width="7" height="37" fill="#7a2a33"/>
<rect x="1015" y="977" width="6" height="32" fill="#7a2a33"/>
<rect x="1022" y="994" width="7" height="15" fill="#2b6049"/>
<rect x="1030" y="1002" width="6" height="7" fill="#7a2a33"/>
<rect x="1037" y="985" width="7" height="24" fill="#7a2a33"/>
<rect x="1045" y="996" width="6" height="13" fill="#2b6049"/>
<rect x="1052" y="977" width="7" height="32" fill="#2b6049"/>
<rect x="1060" y="990" width="6" height="19" fill="#7a2a33"/>
<rect x="1067" y="997" width="7" height="12" fill="#7a2a33"/>
<rect x="1075" y="997" width="6" height="12" fill="#7a2a33"/>
<rect x="1082" y="990" width="7" height="19" fill="#7a2a33"/>
<rect x="1090" y="994" width="6" height="15" fill="#7a2a33"/>
<rect x="1097" y="989" width="7" height="20" fill="#7a2a33"/>
<rect x="1105" y="972" width="6" height="37" fill="#2b6049"/>
<rect x="1112" y="997" width="7" height="12" fill="#2b6049"/>
<rect x="1120" y="1002" width="6" height="7" fill="#2b6049"/>
<rect x="1127" y="997" width="7" height="12" fill="#2b6049"/>
<rect x="1135" y="1000" width="6" height="9" fill="#7a2a33"/>
<rect x="1142" y="998" width="7" height="11" fill="#7a2a33"/>
<rect x="1525" y="918" width="7" height="91" fill="#2b6049"/>
<rect x="1517" y="1004" width="7" height="5" fill="#7a2a33"/>
<rect x="1510" y="1003" width="6" height="6" fill="#2b6049"/>
<rect x="1502" y="999" width="7" height="10" fill="#7a2a33"/>
<rect x="1495" y="1002" width="6" height="7" fill="#7a2a33"/>
<rect x="1487" y="995" width="7" height="14" fill="#2b6049"/>
<rect x="1480" y="1003" width="6" height="6" fill="#7a2a33"/>
<rect x="1472" y="998" width="7" height="11" fill="#2b6049"/>
<rect x="1465" y="1003" width="6" height="6" fill="#2b6049"/>
<rect x="1457" y="1001" width="7" height="8" fill="#2b6049"/>
<rect x="1450" y="1003" width="6" height="6" fill="#7a2a33"/>
<rect x="1442" y="1004" width="7" height="5" fill="#7a2a33"/>
<rect x="1435" y="1001" width="6" height="8" fill="#2b6049"/>
<rect x="1427" y="996" width="7" height="13" fill="#7a2a33"/>
<rect x="1420" y="991" width="6" height="18" fill="#7a2a33"/>
<rect x="1412" y="998" width="7" height="11" fill="#7a2a33"/>
<rect x="1405" y="985" width="6" height="24" fill="#2b6049"/>
<rect x="1397" y="1002" width="7" height="7" fill="#7a2a33"/>
<rect x="1390" y="1003" width="6" height="6" fill="#2b6049"/>
<rect x="1382" y="992" width="7" height="17" fill="#7a2a33"/>
<rect x="1375" y="1002" width="6" height="7" fill="#2b6049"/>
<rect x="1367" y="998" width="7" height="11" fill="#2b6049"/>
<rect x="1360" y="993" width="6" height="16" fill="#7a2a33"/>
<rect x="1352" y="998" width="7" height="11" fill="#7a2a33"/>
<rect x="1345" y="998" width="6" height="11" fill="#7a2a33"/>
<rect x="1337" y="982" width="7" height="27" fill="#7a2a33"/>
<rect x="1330" y="970" width="6" height="39" fill="#7a2a33"/>
<rect x="1322" y="953" width="7" height="56" fill="#2b6049"/>
<rect x="1315" y="998" width="6" height="11" fill="#7a2a33"/>
<rect x="1307" y="997" width="7" height="12" fill="#7a2a33"/>
<rect x="1300" y="993" width="6" height="16" fill="#2b6049"/>
<rect x="1292" y="996" width="7" height="13" fill="#7a2a33"/>
<rect x="1285" y="979" width="6" height="30" fill="#7a2a33"/>
<rect x="1277" y="1000" width="7" height="9" fill="#7a2a33"/>
<rect x="1270" y="992" width="6" height="17" fill="#7a2a33"/>
<rect x="1262" y="978" width="7" height="31" fill="#7a2a33"/>
<rect x="1255" y="946" width="6" height="63" fill="#2b6049"/>
<rect x="1247" y="971" width="7" height="38" fill="#2b6049"/>
<rect x="1240" y="992" width="6" height="17" fill="#7a2a33"/>
<rect x="1232" y="999" width="7" height="10" fill="#7a2a33"/>
<rect x="1225" y="1000" width="6" height="9" fill="#2b6049"/>
<rect x="1217" y="999" width="7" height="10" fill="#7a2a33"/>
<rect x="1210" y="1002" width="6" height="7" fill="#2b6049"/>
<rect x="1202" y="1002" width="7" height="7" fill="#7a2a33"/>
<rect x="1195" y="998" width="6" height="11" fill="#7a2a33"/>
<rect x="1187" y="992" width="7" height="17" fill="#7a2a33"/>
<rect x="1180" y="982" width="6" height="27" fill="#2b6049"/>
<rect x="1172" y="1001" width="7" height="8" fill="#2b6049"/>
<rect x="1165" y="996" width="6" height="13" fill="#2b6049"/>
<rect x="1157" y="1004" width="7" height="5" fill="#7a2a33"/>
<rect x="1150" y="994" width="6" height="15" fill="#2b6049"/>
<rect x="219" y="1003" width="7" height="6" fill="#2b6049"/>
<rect x="227" y="1006" width="6" height="3" fill="#2b6049"/>
<rect x="234" y="1006" width="7" height="3" fill="#7a2a33"/>
<rect x="242" y="1006" width="6" height="3" fill="#2b6049"/>
<rect x="249" y="1004" width="7" height="5" fill="#2b6049"/>
<rect x="257" y="1007" width="6" height="2" fill="#7a2a33"/>
<rect x="264" y="979" width="7" height="30" fill="#2b6049"/>
<rect x="272" y="985" width="6" height="24" fill="#2b6049"/>
<rect x="279" y="1000" width="7" height="9" fill="#2b6049"/>
<rect x="287" y="994" width="6" height="15" fill="#2b6049"/>
<rect x="294" y="996" width="7" height="13" fill="#7a2a33"/>
<rect x="302" y="1002" width="6" height="7" fill="#2b6049"/>
<rect x="309" y="1002" width="7" height="7" fill="#2b6049"/>
<rect x="317" y="967" width="6" height="42" fill="#7a2a33"/>
<rect x="324" y="995" width="7" height="14" fill="#2b6049"/>
<rect x="332" y="996" width="6" height="13" fill="#7a2a33"/>
<rect x="339" y="999" width="7" height="10" fill="#7a2a33"/>
<rect x="347" y="988" width="6" height="21" fill="#7a2a33"/>
<rect x="354" y="998" width="7" height="11" fill="#7a2a33"/>
<rect x="362" y="999" width="6" height="10" fill="#2b6049"/>
<rect x="369" y="1006" width="7" height="3" fill="#7a2a33"/>
<rect x="377" y="1006" width="6" height="3" fill="#7a2a33"/>
<rect x="384" y="1003" width="7" height="6" fill="#7a2a33"/>
<rect x="212" y="1004" width="6" height="5" fill="#2b6049"/>
<rect x="174" y="1004" width="7" height="5" fill="#2b6049"/>
<rect x="204" y="1008" width="7" height="1" fill="#7a2a33"/>
<rect x="197" y="1007" width="6" height="2" fill="#2b6049"/>
<rect x="189" y="1007" width="7" height="2" fill="#7a2a33"/>
<rect x="182" y="1007" width="6" height="2" fill="#7a2a33"/>
<rect x="167" y="1007" width="6" height="2" fill="#2b6049"/>
<rect x="159" y="1007" width="7" height="2" fill="#2b6049"/>
<rect x="152" y="1007" width="6" height="2" fill="#2b6049"/>
<rect x="144" y="1007" width="7" height="2" fill="#2b6049"/>
<rect x="137" y="1008" width="6" height="1" fill="#7a2a33"/>
<rect x="129" y="1007" width="7" height="2" fill="#7a2a33"/>
<rect x="122" y="1007" width="6" height="2" fill="#2b6049"/>
<rect x="114" y="1007" width="7" height="2" fill="#7a2a33"/>
<rect x="107" y="1008" width="6" height="1" fill="#2b6049"/>
<rect x="99" y="1008" width="7" height="1" fill="#7a2a33"/>
<rect x="92" y="1007" width="6" height="2" fill="#7a2a33"/>
<rect x="84" y="1008" width="7" height="1" fill="#7a2a33"/>
<rect x="77" y="1008" width="6" height="1" fill="#2b6049"/>
<rect x="69" y="1007" width="7" height="2" fill="#2b6049"/>
<rect x="62" y="1007" width="6" height="2" fill="#2b6049"/>
<rect x="54" y="1007" width="7" height="2" fill="#2b6049"/>
<rect x="47" y="1007" width="6" height="2" fill="#7a2a33"/>
<rect x="39" y="1007" width="7" height="2" fill="#7a2a33"/>
<rect x="32" y="1007" width="6" height="2" fill="#2b6049"/>
<rect x="24" y="1007" width="7" height="2" fill="#2b6049"/>
<rect x="17" y="1008" width="6" height="1" fill="#2b6049"/>
</g>
<path d="M14.0 1005.1 L37.4 1006.4 L131.2 1007.4 L258.2 1006.4 L271.9 1003.5 L287.5 1002.5 L311.0 1002.1 L318.8 999.6 L334.4 998.2 L350.1 997.1 L365.7 996.3 L394.0 996.7 L409.5 996.1 L417.4 997.6 L438.8 998.6 L462.3 999.0 L470.1 1001.0 L491.6 1001.5 L503.3 1002.9 L522.9 1002.1 L530.7 1000.2 L565.8 998.6 L585.4 997.6 L604.9 996.7 L614.7 995.3 L644.0 994.3 L663.5 994.7 L673.3 995.3 L688.9 996.7 L702.6 992.8 L722.2 992.4 L770.0 991.8 L794.3 991.8 L837.3 991.2 L852.9 995.2 L866.6 996.1 L882.2 995.7 L892.0 996.3 L911.5 996.3 L921.3 993.4 L935.0 992.2 L942.8 988.3 L950.6 986.9 L962.3 982.1 L972.1 979.7 L979.9 978.2 L987.7 977.6 L995.6 974.8 L1009.2 972.3 L1019.0 971.7 L1032.7 971.7 L1040.5 970.9 L1048.3 971.3 L1062.0 970.3 L1069.8 974.6 L1085.4 975.2 L1093.3 978.7 L1105.0 980.1 L1114.7 983.6 L1124.5 986.0 L1136.2 987.3 L1140.0 988.0 L1150.3 989.9 L1162.6 992.5 L1175.0 993.6 L1183.2 992.5 L1197.6 993.2 L1207.9 995.0 L1236.7 995.6 L1246.9 995.0 L1263.4 992.5 L1279.8 992.1 L1288.1 990.5 L1316.9 990.1 L1326.1 988.0 L1345.7 987.4 L1362.1 986.4 L1386.8 986.4 L1397.1 987.4 L1409.4 990.5 L1430.0 990.5 L1440.3 992.1 L1469.0 993.6 L1479.3 996.7 L1489.6 998.3 L1506.1 998.7 L1519.4 999.5 L1528.5 995.0" fill="none" stroke="#1283de" stroke-width="2.8" opacity="0.92" stroke-linejoin="round" stroke-linecap="round"/>
<text x="1844.7" y="939.2" font-size="15.4" fill="#868993" text-anchor="start" font-weight="normal">2</text>
<text x="1855.2" y="939.2" font-size="15.4" fill="#868993" text-anchor="start" font-weight="normal">B</text>
<text x="1844.7" y="1014.3" font-size="15.4" fill="#868993" text-anchor="start" font-weight="normal">0</text>
<path d="M1834 907 H1894.5 a2.5 2.5 0 0 1 2.5 2.5 V927.5 a2.5 2.5 0 0 1 -2.5 2.5 H1834 z" fill="#57b98a"/><text x="1844.7" y="924.0" font-size="15.4" fill="#10141a" text-anchor="start" font-weight="normal" textLength="30.8" lengthAdjust="spacingAndGlyphs">2.39</text><text x="1878.6" y="924.0" font-size="15.4" fill="#10141a" text-anchor="start" font-weight="normal" textLength="10.6" lengthAdjust="spacingAndGlyphs">B</text>
<path d="M1834 984 H1916.5 a2.5 2.5 0 0 1 2.5 2.5 V1004.5 a2.5 2.5 0 0 1 -2.5 2.5 H1834 z" fill="#0b96fd"/><text x="1844.7" y="1001.0" font-size="15.4" fill="#ffffff" text-anchor="start" font-weight="normal" textLength="50" lengthAdjust="spacingAndGlyphs" stroke="#fff" stroke-width="0.5">350.02</text><text x="1898.4" y="1001.0" font-size="15.4" fill="#ffffff" text-anchor="start" font-weight="normal" textLength="13.2" lengthAdjust="spacingAndGlyphs" stroke="#fff" stroke-width="0.5">M</text>
<g shape-rendering="crispEdges">
<rect x="497" y="1082" width="6" height="1" fill="#036f03"/>
<rect x="504" y="1082" width="7" height="1" fill="#036f03"/>
<rect x="512" y="1079" width="6" height="4" fill="#036f03"/>
<rect x="519" y="1082" width="7" height="1" fill="#880b0b"/>
<rect x="527" y="1074" width="6" height="9" fill="#036f03"/>
<rect x="534" y="1080" width="7" height="3" fill="#036f03"/>
<rect x="542" y="1081" width="6" height="2" fill="#036f03"/>
<rect x="549" y="1081" width="7" height="2" fill="#036f03"/>
<rect x="557" y="1081" width="6" height="2" fill="#036f03"/>
<rect x="564" y="1079" width="7" height="4" fill="#036f03"/>
<rect x="572" y="1081" width="6" height="2" fill="#036f03"/>
<rect x="579" y="1076" width="7" height="7" fill="#036f03"/>
<rect x="587" y="1082" width="6" height="9" fill="#880b0b"/>
<rect x="594" y="1080" width="7" height="3" fill="#036f03"/>
<rect x="602" y="1081" width="6" height="2" fill="#036f03"/>
<rect x="609" y="1080" width="7" height="3" fill="#036f03"/>
<rect x="617" y="1082" width="6" height="1" fill="#880b0b"/>
<rect x="624" y="1082" width="7" height="1" fill="#880b0b"/>
<rect x="632" y="1077" width="6" height="6" fill="#036f03"/>
<rect x="639" y="1081" width="7" height="2" fill="#036f03"/>
<rect x="647" y="1082" width="6" height="5" fill="#880b0b"/>
<rect x="654" y="1082" width="7" height="1" fill="#880b0b"/>
<rect x="662" y="1082" width="6" height="1" fill="#880b0b"/>
<rect x="669" y="1076" width="7" height="7" fill="#036f03"/>
<rect x="677" y="1080" width="6" height="3" fill="#036f03"/>
<rect x="684" y="1079" width="7" height="4" fill="#036f03"/>
<rect x="692" y="1069" width="6" height="14" fill="#036f03"/>
<rect x="699" y="1074" width="7" height="9" fill="#036f03"/>
<rect x="707" y="1078" width="6" height="5" fill="#036f03"/>
<rect x="714" y="1079" width="7" height="4" fill="#036f03"/>
<rect x="722" y="1082" width="6" height="3" fill="#880b0b"/>
<rect x="729" y="1080" width="7" height="3" fill="#036f03"/>
<rect x="737" y="1082" width="6" height="6" fill="#880b0b"/>
<rect x="744" y="1082" width="7" height="14" fill="#880b0b"/>
<rect x="752" y="1077" width="6" height="6" fill="#036f03"/>
<rect x="759" y="1082" width="7" height="7" fill="#880b0b"/>
<rect x="767" y="1082" width="7" height="6" fill="#880b0b"/>
<rect x="775" y="1081" width="6" height="2" fill="#036f03"/>
<rect x="782" y="1082" width="7" height="5" fill="#880b0b"/>
<rect x="790" y="1082" width="6" height="3" fill="#880b0b"/>
<rect x="797" y="1082" width="7" height="5" fill="#880b0b"/>
<rect x="805" y="1082" width="6" height="5" fill="#880b0b"/>
<rect x="812" y="1081" width="7" height="2" fill="#036f03"/>
<rect x="820" y="1082" width="6" height="7" fill="#880b0b"/>
<rect x="827" y="1082" width="7" height="1" fill="#880b0b"/>
<rect x="835" y="1081" width="6" height="2" fill="#036f03"/>
<rect x="842" y="1082" width="7" height="4" fill="#880b0b"/>
<rect x="850" y="1082" width="6" height="4" fill="#880b0b"/>
<rect x="857" y="1081" width="7" height="2" fill="#036f03"/>
<rect x="865" y="1079" width="6" height="4" fill="#036f03"/>
<rect x="872" y="1082" width="7" height="4" fill="#880b0b"/>
<rect x="880" y="1082" width="6" height="4" fill="#880b0b"/>
<rect x="887" y="1082" width="7" height="5" fill="#880b0b"/>
<rect x="895" y="1078" width="6" height="5" fill="#036f03"/>
<rect x="902" y="1082" width="7" height="8" fill="#880b0b"/>
<rect x="910" y="1082" width="6" height="1" fill="#880b0b"/>
<rect x="917" y="1082" width="7" height="1" fill="#880b0b"/>
<rect x="925" y="1082" width="6" height="2" fill="#880b0b"/>
<rect x="932" y="1062" width="7" height="21" fill="#036f03"/>
<rect x="940" y="1046" width="6" height="37" fill="#036f03"/>
<rect x="947" y="1082" width="7" height="8" fill="#880b0b"/>
<rect x="955" y="1082" width="6" height="1" fill="#880b0b"/>
<rect x="962" y="1049" width="7" height="34" fill="#036f03"/>
<rect x="970" y="1082" width="6" height="14" fill="#880b0b"/>
<rect x="977" y="1082" width="7" height="14" fill="#880b0b"/>
<rect x="985" y="1077" width="6" height="6" fill="#036f03"/>
<rect x="992" y="1082" width="7" height="26" fill="#880b0b"/>
<rect x="1000" y="1068" width="6" height="15" fill="#036f03"/>
<rect x="1007" y="1082" width="7" height="18" fill="#880b0b"/>
<rect x="1015" y="1082" width="6" height="11" fill="#880b0b"/>
<rect x="1022" y="1082" width="7" height="1" fill="#880b0b"/>
<rect x="1030" y="1082" width="6" height="1" fill="#036f03"/>
<rect x="1037" y="1082" width="7" height="10" fill="#880b0b"/>
<rect x="1045" y="1082" width="6" height="5" fill="#880b0b"/>
<rect x="1052" y="1082" width="7" height="1" fill="#036f03"/>
<rect x="1060" y="1082" width="6" height="12" fill="#880b0b"/>
<rect x="1067" y="1082" width="7" height="8" fill="#880b0b"/>
<rect x="1075" y="1082" width="6" height="3" fill="#880b0b"/>
<rect x="1082" y="1075" width="7" height="8" fill="#036f03"/>
<rect x="1090" y="1079" width="6" height="4" fill="#036f03"/>
<rect x="1097" y="1082" width="7" height="11" fill="#880b0b"/>
<rect x="1105" y="1082" width="6" height="3" fill="#880b0b"/>
<rect x="1112" y="1082" width="7" height="4" fill="#880b0b"/>
<rect x="1120" y="1082" width="6" height="1" fill="#880b0b"/>
<rect x="1127" y="1082" width="7" height="7" fill="#880b0b"/>
<rect x="1135" y="1082" width="6" height="5" fill="#880b0b"/>
<rect x="1142" y="1082" width="7" height="1" fill="#880b0b"/>
<rect x="1150" y="1078" width="6" height="5" fill="#036f03"/>
<rect x="1157" y="1082" width="7" height="3" fill="#880b0b"/>
<rect x="1165" y="1082" width="6" height="7" fill="#880b0b"/>
<rect x="1172" y="1082" width="7" height="1" fill="#880b0b"/>
<rect x="1180" y="1082" width="6" height="5" fill="#880b0b"/>
<rect x="1187" y="1082" width="7" height="7" fill="#880b0b"/>
<rect x="1195" y="1082" width="6" height="1" fill="#880b0b"/>
<rect x="1202" y="1082" width="7" height="1" fill="#880b0b"/>
<rect x="1210" y="1079" width="6" height="4" fill="#036f03"/>
<rect x="1217" y="1082" width="7" height="1" fill="#036f03"/>
<rect x="1225" y="1079" width="6" height="4" fill="#036f03"/>
<rect x="1232" y="1082" width="7" height="3" fill="#880b0b"/>
<rect x="1240" y="1082" width="6" height="7" fill="#880b0b"/>
<rect x="1247" y="1082" width="7" height="8" fill="#880b0b"/>
<rect x="1255" y="1073" width="6" height="10" fill="#036f03"/>
<rect x="1262" y="1082" width="7" height="11" fill="#880b0b"/>
<rect x="1270" y="1082" width="6" height="3" fill="#880b0b"/>
<rect x="1277" y="1082" width="7" height="3" fill="#880b0b"/>
<rect x="1285" y="1082" width="6" height="3" fill="#880b0b"/>
<rect x="1292" y="1082" width="7" height="1" fill="#880b0b"/>
<rect x="1300" y="1082" width="6" height="1" fill="#880b0b"/>
<rect x="1307" y="1082" width="7" height="1" fill="#036f03"/>
<rect x="1315" y="1082" width="6" height="1" fill="#036f03"/>
<rect x="1322" y="1058" width="7" height="25" fill="#036f03"/>
<rect x="1330" y="1082" width="6" height="5" fill="#880b0b"/>
<rect x="1337" y="1082" width="7" height="14" fill="#880b0b"/>
<rect x="1345" y="1082" width="6" height="3" fill="#880b0b"/>
<rect x="1352" y="1082" width="7" height="1" fill="#880b0b"/>
<rect x="1360" y="1081" width="6" height="2" fill="#036f03"/>
<rect x="1367" y="1082" width="7" height="1" fill="#880b0b"/>
<rect x="1375" y="1082" width="6" height="1" fill="#036f03"/>
<rect x="1382" y="1082" width="7" height="3" fill="#880b0b"/>
<rect x="1390" y="1082" width="6" height="1" fill="#036f03"/>
<rect x="1397" y="1082" width="7" height="1" fill="#036f03"/>
<rect x="1405" y="1082" width="6" height="9" fill="#880b0b"/>
<rect x="1412" y="1082" width="7" height="4" fill="#880b0b"/>
<rect x="1420" y="1082" width="6" height="10" fill="#880b0b"/>
<rect x="1427" y="1082" width="7" height="1" fill="#880b0b"/>
<rect x="1435" y="1082" width="6" height="1" fill="#036f03"/>
<rect x="1442" y="1082" width="7" height="1" fill="#036f03"/>
<rect x="1450" y="1082" width="6" height="1" fill="#880b0b"/>
<rect x="1457" y="1081" width="7" height="2" fill="#036f03"/>
<rect x="1465" y="1082" width="6" height="1" fill="#036f03"/>
<rect x="1472" y="1082" width="7" height="1" fill="#880b0b"/>
<rect x="1480" y="1082" width="6" height="1" fill="#880b0b"/>
<rect x="1487" y="1081" width="7" height="2" fill="#036f03"/>
<rect x="1495" y="1082" width="6" height="1" fill="#880b0b"/>
<rect x="1502" y="1081" width="7" height="2" fill="#036f03"/>
<rect x="1510" y="1082" width="6" height="1" fill="#880b0b"/>
<rect x="1517" y="1082" width="7" height="1" fill="#880b0b"/>
<rect x="1525" y="1081" width="7" height="2" fill="#036f03"/>
<rect x="17" y="1082" width="6" height="1" fill="#880b0b"/>
<rect x="32" y="1082" width="6" height="1" fill="#880b0b"/>
<rect x="39" y="1082" width="7" height="1" fill="#880b0b"/>
<rect x="47" y="1082" width="6" height="1" fill="#880b0b"/>
<rect x="54" y="1081" width="7" height="2" fill="#036f03"/>
<rect x="69" y="1082" width="7" height="1" fill="#036f03"/>
<rect x="129" y="1082" width="7" height="1" fill="#880b0b"/>
<rect x="137" y="1082" width="6" height="1" fill="#036f03"/>
<rect x="152" y="1082" width="6" height="1" fill="#880b0b"/>
<rect x="174" y="1082" width="7" height="1" fill="#036f03"/>
<rect x="189" y="1082" width="7" height="1" fill="#880b0b"/>
<rect x="212" y="1081" width="6" height="2" fill="#036f03"/>
<rect x="219" y="1082" width="7" height="1" fill="#880b0b"/>
<rect x="227" y="1082" width="6" height="1" fill="#880b0b"/>
<rect x="234" y="1082" width="7" height="1" fill="#036f03"/>
<rect x="242" y="1082" width="6" height="1" fill="#880b0b"/>
<rect x="249" y="1082" width="7" height="1" fill="#880b0b"/>
<rect x="257" y="1082" width="6" height="1" fill="#036f03"/>
<rect x="264" y="1081" width="7" height="2" fill="#036f03"/>
<rect x="272" y="1081" width="6" height="2" fill="#036f03"/>
<rect x="279" y="1082" width="7" height="1" fill="#036f03"/>
<rect x="287" y="1080" width="6" height="3" fill="#036f03"/>
<rect x="294" y="1081" width="7" height="2" fill="#036f03"/>
<rect x="302" y="1082" width="6" height="1" fill="#036f03"/>
<rect x="309" y="1082" width="7" height="1" fill="#880b0b"/>
<rect x="317" y="1082" width="6" height="2" fill="#880b0b"/>
<rect x="324" y="1081" width="7" height="2" fill="#036f03"/>
<rect x="332" y="1082" width="6" height="3" fill="#880b0b"/>
<rect x="339" y="1082" width="7" height="1" fill="#880b0b"/>
<rect x="347" y="1082" width="6" height="1" fill="#880b0b"/>
<rect x="354" y="1082" width="7" height="2" fill="#880b0b"/>
<rect x="362" y="1081" width="6" height="2" fill="#036f03"/>
<rect x="369" y="1082" width="7" height="1" fill="#880b0b"/>
<rect x="377" y="1082" width="6" height="1" fill="#880b0b"/>
<rect x="384" y="1081" width="7" height="2" fill="#036f03"/>
<rect x="392" y="1081" width="6" height="2" fill="#036f03"/>
<rect x="399" y="1082" width="7" height="2" fill="#880b0b"/>
<rect x="407" y="1082" width="6" height="1" fill="#036f03"/>
<rect x="414" y="1082" width="7" height="1" fill="#880b0b"/>
<rect x="422" y="1082" width="6" height="1" fill="#880b0b"/>
<rect x="429" y="1082" width="7" height="1" fill="#880b0b"/>
<rect x="437" y="1081" width="6" height="2" fill="#036f03"/>
<rect x="444" y="1081" width="7" height="2" fill="#036f03"/>
<rect x="452" y="1082" width="6" height="1" fill="#880b0b"/>
<rect x="459" y="1082" width="7" height="1" fill="#880b0b"/>
<rect x="467" y="1082" width="6" height="1" fill="#880b0b"/>
<rect x="474" y="1082" width="7" height="1" fill="#880b0b"/>
<rect x="482" y="1082" width="6" height="1" fill="#036f03"/>
<rect x="489" y="1082" width="7" height="1" fill="#880b0b"/>
</g>
<path d="M1834 1069 H1894.5 a2.5 2.5 0 0 1 2.5 2.5 V1089.5 a2.5 2.5 0 0 1 -2.5 2.5 H1834 z" fill="#049a08"/><text x="1844.7" y="1086.0" font-size="15.4" fill="#ffffff" text-anchor="start" font-weight="normal" textLength="30.8" lengthAdjust="spacingAndGlyphs" stroke="#fff" stroke-width="0.5">2.05</text><text x="1878.6" y="1086.0" font-size="15.4" fill="#ffffff" text-anchor="start" font-weight="normal" textLength="10.6" lengthAdjust="spacingAndGlyphs" stroke="#fff" stroke-width="0.5">B</text>
<text x="116.7" y="1146.3" font-size="15" fill="#7d808a" text-anchor="middle" font-weight="normal">Feb</text>
<text x="267" y="1146.3" font-size="15" fill="#7d808a" text-anchor="middle" font-weight="normal">Mar</text>
<text x="409.7" y="1146.3" font-size="15" fill="#7d808a" text-anchor="middle" font-weight="normal">Apr</text>
<text x="529.9" y="1146.3" font-size="15" fill="#7d808a" text-anchor="middle" font-weight="normal">May</text>
<text x="657.6" y="1146.3" font-size="15" fill="#7d808a" text-anchor="middle" font-weight="normal">Jun</text>
<text x="792.7" y="1146.3" font-size="15" fill="#7d808a" text-anchor="middle" font-weight="normal">Jul</text>
<text x="965.3" y="1146.3" font-size="15" fill="#7d808a" text-anchor="middle" font-weight="normal">Aug</text>
<text x="1115" y="1146.3" font-size="15" fill="#7d808a" text-anchor="middle" font-weight="normal">Sep</text>
<text x="1272" y="1146.3" font-size="15" fill="#7d808a" text-anchor="middle" font-weight="normal">Oct</text>
<text x="1445" y="1146.3" font-size="15" fill="#7d808a" text-anchor="middle" font-weight="normal">Nov</text>
<text x="1595.4" y="1146.3" font-size="15" fill="#7d808a" text-anchor="middle" font-weight="normal">Dec</text>
<text x="1767.9" y="1146.3" font-size="15" fill="#9a9da6" text-anchor="middle" font-weight="bold" textLength="39" lengthAdjust="spacingAndGlyphs">2026</text>
<g fill="#d8d8d8">
<path d="M13 1175.6 H24 V1188.8 H18 V1181 H13 z"/>
<circle cx="27.6" cy="1178.4" r="2.6"/>
<path d="M31.9 1175.6 H39.4 L34.4 1188.8 H27.4 z"/>
<text x="44.4" y="1188.8" font-size="17" fill="#d8d8d8" text-anchor="start" font-weight="normal" textLength="94.5" lengthAdjust="spacingAndGlyphs">TradingView</text>
</g>
</svg></body></html>
